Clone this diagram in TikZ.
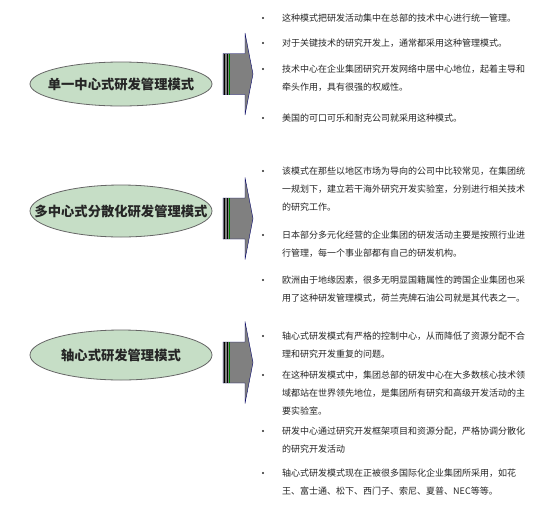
\documentclass[tikz,border=0pt]{standalone}
\usepackage{fontspec}
\setmainfont{Noto Sans CJK SC}
\usepackage{tikz}
\usetikzlibrary{calc}
\definecolor{ovalgreen}{RGB}{198,222,198}
\definecolor{arrowgray}{RGB}{128,128,128}

\begin{document}
\begin{tikzpicture}[x=1pt,y=-1pt,
    mode/.style={inner sep=0pt, text=black!85, font=\fontsize{13.3}{16}\selectfont\bfseries},
    oval/.style={fill=ovalgreen, draw=black!60, line width=.8pt},
    point/.style={anchor=base west, align=left, inner sep=0pt, text=black!85, font=\fontsize{9}{18}\selectfont}]
  \useasboundingbox (0,0) rectangle (556,520);
  % ovals
  \filldraw [oval] (121,84) ellipse [x radius=91, y radius=22];
  \filldraw [oval] (121,211) ellipse [x radius=91, y radius=26];
  \filldraw [oval] (121,355) ellipse [x radius=91, y radius=25];
  \node [mode] (single) at (121,84) {单一中心式研发管理模式};
  \node [mode] (multi) at (121,211) {多中心式分散化研发管理模式};
  \node [mode] (axis) at (121,355) {轴心式研发管理模式};
  % arrows
  \foreach \y in {74,218.5,362.5} {
    \filldraw [fill=arrowgray, draw=black!60!blue, line width=.4pt]
      (223,\y-20.5) -- (245,\y-20.5) -- (245,\y-41) -- (253,\y)
      -- (245,\y+41) -- (245,\y+20.5) -- (223,\y+20.5) -- cycle;
    \draw [line width=1pt] (224,\y-20.5) -- (224,\y+20.5)
                           (227,\y-20.5) -- (227,\y+20.5);
    \draw [green!50!black, line width=.5pt] (229.5,\y-20.5) -- (229.5,\y+20.5);
  }
  % bullet points (y of first line / number of lines / text)
  \foreach \y/\n/\t in {
      18/1/{这种模式把研发活动集中在总部的技术中心进行统一管理。},
      43/1/{对于关键技术的研究开发上，通常都采用这种管理模式。},
      69/2/{技术中心在企业集团研究开发网络中居中心地位，起着主导和\\牵头作用，具有很强的权威性。},
      118/1/{美国的可口可乐和耐克公司就采用这种模式。},
      171/3/{该模式在那些以地区市场为导向的公司中比较常见，在集团统\\一规划下，建立若干海外研究开发实验室，分别进行相关技术\\的研究工作。},
      235/2/{日本部分多元化经营的企业集团的研发活动主要是按照行业进\\行管理，每一个事业部都有自己的研发机构。},
      280/2/{欧洲由于地缘因素，很多无明显国籍属性的跨国企业集团也采\\用了这种研发管理模式，荷兰壳牌石油公司就是其代表之一。},
      336/2/{轴心式研发模式有严格的控制中心，从而降低了资源分配不合\\理和研究开发重复的问题。},
      375/3/{在这种研发模式中，集团总部的研发中心在大多数核心技术领\\域都站在世界领先地位，是集团所有研究和高级开发活动的主\\要实验室。},
      431/2/{研发中心通过研究开发框架项目和资源分配，严格协调分散化\\的研究开发活动},
      473/2/{轴心式研发模式现在正被很多国际化企业集团所采用，如花\\王、富士通、松下、西门子、索尼、夏普、NEC等等。}} {
    \fill [black!85] (263,\y) circle (1.1);
    \node [point] (p\y) at (282,\y+3.3+18*\n-18) {\t};
  }
\end{tikzpicture}
\end{document}
